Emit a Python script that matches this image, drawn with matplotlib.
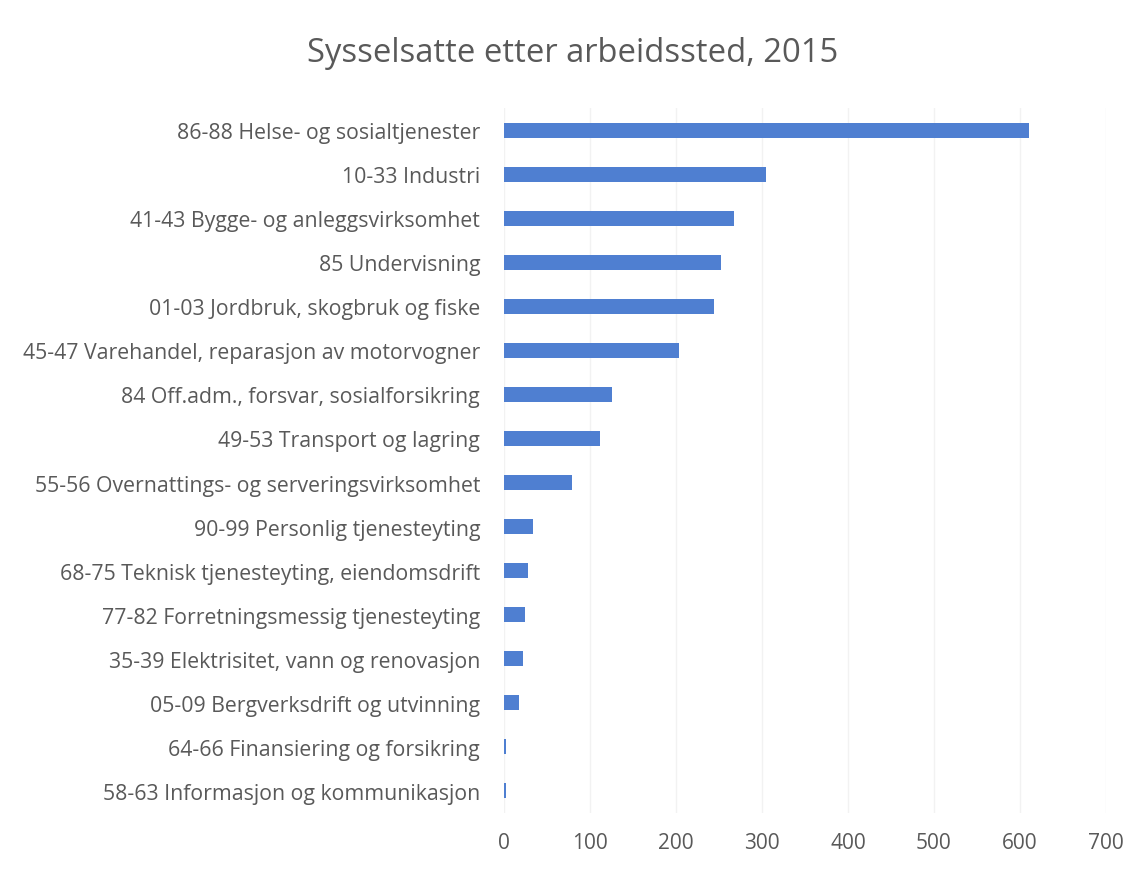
import matplotlib
matplotlib.use("Agg")
import matplotlib.pyplot as plt

categories = [
    "86-88 Helse- og sosialtjenester",
    "10-33 Industri",
    "41-43 Bygge- og anleggsvirksomhet",
    "85 Undervisning",
    "01-03 Jordbruk, skogbruk og fiske",
    "45-47 Varehandel, reparasjon av motorvogner",
    "84 Off.adm., forsvar, sosialforsikring",
    "49-53 Transport og lagring",
    "55-56 Overnattings- og serveringsvirksomhet",
    "90-99 Personlig tjenesteyting",
    "68-75 Teknisk tjenesteyting, eiendomsdrift",
    "77-82 Forretningsmessig tjenesteyting",
    "35-39 Elektrisitet, vann og renovasjon",
    "05-09 Bergverksdrift og utvinning",
    "64-66 Finansiering og forsikring",
    "58-63 Informasjon og kommunikasjon",
]
values = [610, 305, 267, 252, 244, 204, 126, 112, 79, 34, 28, 25, 22, 18, 3, 3]
xticks = [0, 100, 200, 300, 400, 500, 600, 700]
title = "Sysselsatte etter arbeidssted, 2015"

plt.rcParams['font.family'] = ['Open Sans', 'DejaVu Sans']
text_color = '#595959'

fig = plt.figure(figsize=(11.45, 8.7), dpi=100)
ax = fig.add_axes([0.440, 0.0644, 0.526, 0.8103])

ypos = list(range(len(categories)))
ax.barh(ypos, values, height=0.34, color='#4f7fd1', zorder=3)
ax.set_ylim(len(categories) - 0.5, -0.5)
ax.set_yticks(ypos)
ax.set_yticklabels(categories, fontsize=15.3, color=text_color)
ax.set_xlim(0, 700)
ax.set_xticks(xticks)
ax.set_xticklabels([str(t) for t in xticks], fontsize=15, color=text_color)
ax.tick_params(axis='both', length=0)
ax.tick_params(axis='y', pad=17)
ax.tick_params(axis='x', pad=14)
for s in ax.spines.values():
    s.set_visible(False)
ax.grid(axis='x', color='#f2f2f2', linewidth=1, zorder=0)

fig.text(0.5, 0.938, title, ha='center', va='center', fontsize=23.6, color=text_color)

fig.savefig("out.png", dpi=100, facecolor='white')
